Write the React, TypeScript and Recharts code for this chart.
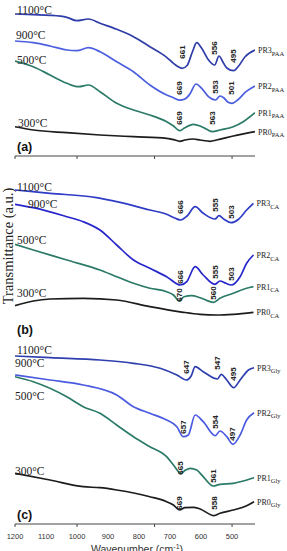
import { LineChart, Line, XAxis, YAxis, ReferenceDot } from "recharts";

type Pt = { w: number; t: number };

const pts = (rows: number[][]): Pt[] => rows.map(([w, t]) => ({ w, t }));

// wavenumber axis (cm-1), drawn high to low
const X_MIN = 426;
const X_MAX = 1200;
const majorTicks = [1200, 1000, 750, 500];
const tickLabels = [1200, 1100, 1000, 900, 800, 700, 600, 500];

// (a) PAA series, transmittance in a.u.
const paa1100 = pts([[1200, 142], [1141, 141.3], [1087, 140.7], [1033, 138.7], [1001, 135.3], [963, 137], [926, 132.7], [872, 126.7], [818, 119.3], [765, 109.3], [711, 98.7], [689, 92.7], [675, 89.5], [661, 87.7], [645, 90.5], [628, 104], [614, 113.3], [598, 107.7], [576, 96], [556, 91], [542, 100], [530, 94.3], [517, 88], [495, 85.3], [480, 89.5], [458, 99.3], [426, 106]]);
const paa900 = pts([[1200, 115], [1141, 113.3], [1087, 110], [1033, 106], [1001, 105.3], [963, 108.3], [926, 104.3], [872, 94.3], [818, 84.3], [765, 71], [711, 61], [689, 58.3], [669, 55.8], [652, 57], [636, 62], [616, 72], [598, 67.7], [576, 59.3], [553, 56], [539, 60], [526, 58], [514, 54], [501, 52.7], [482, 56], [455, 64.3], [426, 70]]);
const paa500 = pts([[1200, 95], [1141, 89.3], [1087, 81], [1033, 72.7], [995, 69.3], [963, 71], [926, 64.3], [872, 52.7], [818, 46], [765, 41], [711, 34.3], [689, 30], [669, 25.3], [655, 27.7], [625, 31.7], [603, 30], [582, 26.7], [563, 24.3], [539, 26], [496, 29.3], [464, 34.3], [426, 43.3]]);
const paa300 = pts([[1200, 29.3], [1141, 26], [1033, 23.3], [926, 21], [818, 19.3], [711, 17.7], [684, 16], [669, 14.7], [652, 16], [625, 17], [603, 16], [571, 14.7], [550, 16], [496, 20], [426, 24.3]]);
const paaPeaks = pts([[661, 104], [556, 108], [495, 100], [669, 68], [553, 69], [501, 68], [669, 38], [563, 38]]);

// (b) CA series
const ca1100 = pts([[1200, 132], [1087, 128.7], [937, 124.3], [872, 120.3], [765, 112], [711, 107.7], [683, 103.7], [666, 102], [645, 106], [619, 115.3], [593, 108.7], [555, 103], [542, 106.3], [525, 102.5], [503, 99.3], [480, 102.5], [453, 112], [431, 118.7]]);
const ca900 = pts([[1200, 117.7], [1141, 114.3], [1033, 105.3], [980, 100.3], [926, 92], [872, 77], [818, 62], [765, 53.7], [711, 45.3], [666, 37], [646, 40.3], [619, 55.3], [593, 47], [555, 37.7], [539, 41], [520, 38.7], [503, 37], [474, 45.3], [453, 58.7], [431, 67]]);
const ca500 = pts([[1200, 77.7], [1141, 72], [1033, 62], [926, 52], [872, 45.3], [818, 38.7], [765, 33.7], [711, 30.3], [689, 27], [670, 21], [655, 25.3], [630, 26.3], [603, 24.3], [560, 19.7], [539, 23.7], [496, 28.7], [453, 33.7], [431, 35.3]]);
const ca300 = pts([[1200, 16.3], [1141, 21], [1087, 23], [980, 23.7], [872, 22], [765, 15.3], [657, 9.7], [603, 7.7], [549, 7], [496, 7.7], [431, 9.7]]);
const caPeaks = pts([[666, 115], [555, 117], [503, 110], [666, 45], [555, 50], [503, 48], [670, 27], [560, 29]]);

// (c) Gly series
const gly1100 = pts([[1200, 168], [1087, 166.3], [926, 164], [818, 160.7], [732, 155.7], [678, 149], [647, 144], [632, 148], [619, 157.3], [593, 152.3], [547, 145], [535, 149.7], [517, 144], [495, 136.3], [474, 144], [447, 154], [429, 156.3]]);
const gly900 = pts([[1200, 149], [1087, 144], [980, 139], [872, 129], [818, 117.3], [765, 110.7], [711, 104], [678, 97.3], [657, 87.3], [641, 89], [619, 109], [593, 102.3], [554, 88.3], [539, 93], [517, 87.3], [497, 79.7], [474, 89], [453, 104], [429, 111.3]]);
const gly500 = pts([[1200, 147.3], [1141, 142.3], [1033, 127.3], [980, 117.3], [926, 110.7], [872, 99], [818, 87.3], [765, 77.3], [711, 67.3], [689, 59], [665, 50.7], [650, 54], [635, 55.7], [614, 54], [593, 47.3], [561, 38], [539, 39.7], [496, 40.7], [464, 43], [429, 46.3]]);
const gly300 = pts([[1200, 50.7], [1087, 44], [980, 37.3], [926, 36.3], [872, 34], [765, 27.3], [711, 22.3], [689, 19], [669, 14], [652, 16.3], [625, 16.7], [603, 15], [558, 8.3], [539, 10.7], [496, 14], [453, 18.3], [429, 22.3]]);
const glyPeaks = pts([[647, 157], [547, 161], [495, 150], [657, 97], [554, 102], [497, 90], [665, 56], [561, 48], [669, 21], [558, 21]]);

const SERIF = "'Liberation Serif', 'Times New Roman', serif";
const SANS = "'Liberation Sans', Arial, sans-serif";
const AXIS = "#444";
const TEAL = "#2b7a68";
const BLACK = "#1c1c1c";

type Curve = { data: Pt[]; color: string; name: string; sub: string };

const panelA: Curve[] = [
  { data: paa1100, color: "#2f3da8", name: "PR3", sub: "PAA" },
  { data: paa900, color: "#4c5fdf", name: "PR2", sub: "PAA" },
  { data: paa500, color: TEAL, name: "PR1", sub: "PAA" },
  { data: paa300, color: BLACK, name: "PR0", sub: "PAA" },
];
const panelB: Curve[] = [
  { data: ca1100, color: "#2f3cc6", name: "PR3", sub: "CA" },
  { data: ca900, color: "#2626cc", name: "PR2", sub: "CA" },
  { data: ca500, color: TEAL, name: "PR1", sub: "CA" },
  { data: ca300, color: BLACK, name: "PR0", sub: "CA" },
];
const panelC: Curve[] = [
  { data: gly1100, color: "#2f3fae", name: "PR3", sub: "Gly" },
  { data: gly900, color: "#4b5be0", name: "PR2", sub: "Gly" },
  { data: gly500, color: TEAL, name: "PR1", sub: "Gly" },
  { data: gly300, color: BLACK, name: "PR0", sub: "Gly" },
];

function AxisTick(props: any) {
  const { x, y, payload, withText } = props;
  const v = payload.value;
  return (
    <g>
      {majorTicks.includes(v) && <line x1={x} x2={x} y1={y} y2={y + 3} stroke={AXIS} />}
      {withText && v % 100 === 0 && (
        <text x={x} y={y + 15} textAnchor="middle" fontSize={7.5} fill="#333" fontFamily={SANS}>
          {v}
        </text>
      )}
    </g>
  );
}

type PanelProps = {
  top: number;
  height: number;
  mTop: number;
  mBottom: number;
  axisH: number;
  yMax: number;
  curves: Curve[];
  peaks: Pt[];
  axis: "ticks" | "labels" | "none";
};

function Panel({ top, height, mTop, mBottom, axisH, yMax, curves, peaks, axis }: PanelProps) {
  return (
    <div style={{ position: "absolute", left: 0, top }}>
      <LineChart width={287} height={height} margin={{ top: mTop, right: 32, bottom: mBottom, left: 15 }}>
        <XAxis
          dataKey="w"
          type="number"
          domain={[X_MIN, X_MAX]}
          reversed
          allowDataOverflow
          hide={axis === "none"}
          height={axisH}
          ticks={axis === "labels" ? [1200, 1100, 1000, 900, 800, 750, 700, 600, 500] : majorTicks}
          interval={0}
          tickSize={0}
          tickMargin={0}
          tickLine={false}
          axisLine={{ stroke: AXIS, strokeWidth: 1 }}
          tick={(p: any) => <AxisTick {...p} withText={axis === "labels" && tickLabels.includes(p.payload.value)} />}
        />
        <YAxis
          type="number"
          domain={[0, yMax]}
          allowDataOverflow
          width={0}
          tick={false}
          tickLine={false}
          axisLine={{ stroke: AXIS, strokeWidth: 1 }}
        />
        {curves.map((c) => (
          <Line
            key={c.name}
            data={c.data}
            dataKey="t"
            type="monotone"
            stroke={c.color}
            strokeWidth={1.7}
            dot={false}
            isAnimationActive={false}
          />
        ))}
        {/* sample names at the right end of each trace */}
        {curves.map((c) => {
          const end = c.data[c.data.length - 1];
          return (
            <ReferenceDot
              key={"n" + c.name}
              x={end.w}
              y={end.t}
              r={1}
              shape={(p: any) => (
                <text x={p.cx + 3} y={p.cy + 3} fontFamily={SERIF} fontSize={8} fill="#222">
                  {c.name}
                  <tspan dy={2.5} fontSize={6.5}>
                    {c.sub}
                  </tspan>
                </text>
              )}
            />
          );
        })}
        {/* band positions, written vertically */}
        {peaks.map((p, i) => (
          <ReferenceDot
            key={"p" + i}
            x={p.w}
            y={p.t}
            r={1}
            shape={(s: any) => (
              <text
                x={s.cx}
                y={s.cy}
                transform={`rotate(-90 ${s.cx} ${s.cy})`}
                textAnchor="middle"
                dominantBaseline="central"
                fontSize={8}
                fontWeight="bold"
                fill="#222"
                fontFamily={SANS}
              >
                {p.w}
              </text>
            )}
          />
        ))}
      </LineChart>
    </div>
  );
}

const tempStyle = { fontFamily: SERIF, fontSize: 11.5, fill: "#222" };
const letterStyle = { fontFamily: SANS, fontSize: 12.5, fontWeight: 700, fill: "#111" };

export default function App() {
  return (
    <div style={{ position: "absolute", left: 0, top: 0, width: 287, height: 551, background: "#fff", overflow: "hidden" }}>
      <Panel top={0} height={165} mTop={5} mBottom={0} axisH={9} yMax={151} curves={panelA} peaks={paaPeaks} axis="ticks" />
      <Panel top={170} height={160} mTop={10} mBottom={8} axisH={0} yMax={142} curves={panelB} peaks={caPeaks} axis="none" />
      <Panel top={335} height={216} mTop={10} mBottom={0} axisH={27} yMax={179} curves={panelC} peaks={glyPeaks} axis="labels" />
      <svg width={287} height={551} style={{ position: "absolute", left: 0, top: 0, pointerEvents: "none" }}>
        {/* (a) */}
        <text x={17} y={14} {...tempStyle}>1100°C</text>
        <text x={16} y={38.5} {...tempStyle}>900°C</text>
        <text x={17} y={64} {...tempStyle}>500°C</text>
        <text x={18} y={127} {...tempStyle}>300°C</text>
        <text x={17} y={151} {...letterStyle}>(a)</text>
        {/* (b) */}
        <text x={17} y={191} {...tempStyle}>1100°C</text>
        <text x={28} y={208} {...tempStyle}>900°C</text>
        <text x={17} y={244} {...tempStyle}>500°C</text>
        <text x={17} y={297} {...tempStyle}>300°C</text>
        <text x={17} y={334} {...letterStyle}>(b)</text>
        {/* (c) */}
        <text x={17} y={354} {...tempStyle}>1100°C</text>
        <text x={15} y={366.5} {...tempStyle}>900°C</text>
        <text x={15} y={400} {...tempStyle}>500°C</text>
        <text x={15} y={475} {...tempStyle}>300°C</text>
        <text x={17} y={519} {...letterStyle}>(c)</text>
        <text
          transform="translate(12.5 246) rotate(-90)"
          textAnchor="middle"
          fontFamily={SERIF}
          fontSize={14.5}
          fill="#222"
        >
          Transmittance (a.u.)
        </text>
        <text x={137} y={553} textAnchor="middle" fontFamily={SANS} fontSize={10.5} fill="#333">
          Wavenumber (cm<tspan dy={-4} fontSize={7}>-1</tspan>
          <tspan dy={4}>)</tspan>
        </text>
      </svg>
    </div>
  );
}
